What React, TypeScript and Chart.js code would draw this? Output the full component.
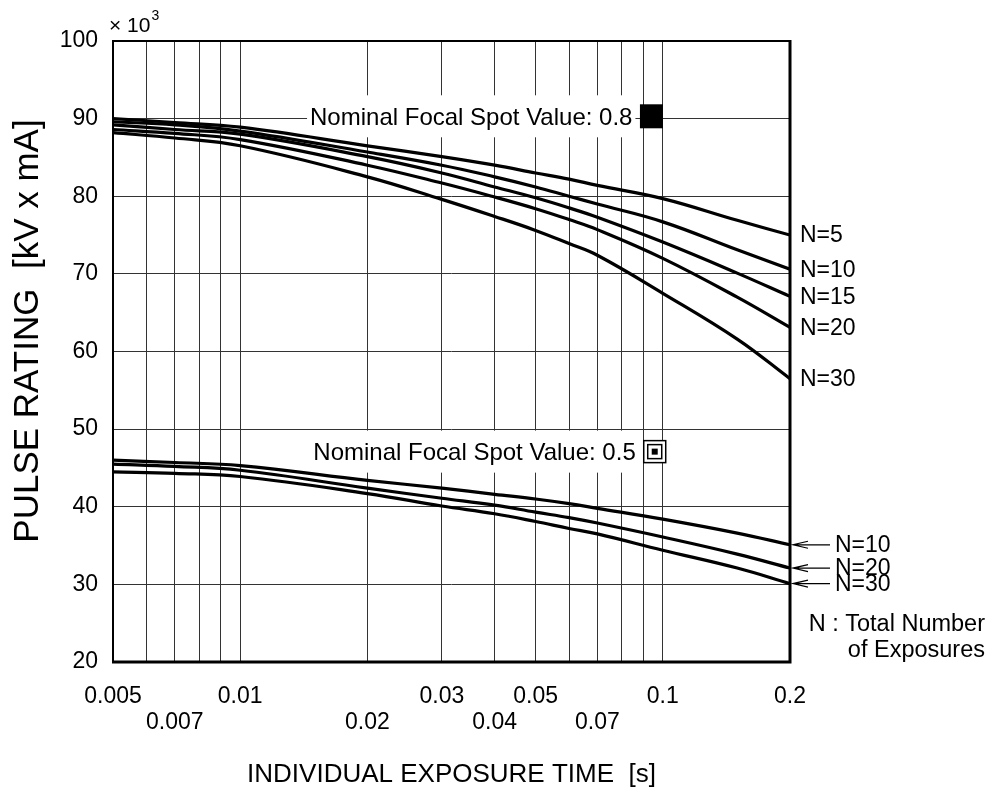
import React, { useEffect, useRef } from "react";
import { Chart, registerables } from "chart.js";

Chart.register(...registerables);

// ---- data ----
const TIMES_HI = [0.005, 0.007, 0.01, 0.02, 0.03, 0.04, 0.05, 0.06, 0.07, 0.1, 0.15, 0.2];
const HI_N5 = [90.0, 89.5, 88.9, 86.5, 85.1, 84.0, 83.0, 82.2, 81.4, 79.7, 76.9, 75.0];
const HI_N10 = [89.6, 89.2, 88.4, 85.7, 84.0, 82.5, 81.2, 80.0, 79.0, 76.7, 73.1, 70.6];
const HI_N15 = [89.2, 88.6, 88.0, 85.1, 83.0, 81.2, 79.8, 78.5, 77.3, 74.1, 70.1, 67.1];
const HI_N20 = [88.6, 88.1, 87.3, 84.0, 81.7, 79.9, 78.4, 77.0, 75.7, 72.0, 67.0, 63.1];
const HI_N30 = [88.2, 87.5, 86.5, 82.5, 79.6, 77.4, 75.6, 73.9, 72.4, 67.5, 61.6, 56.5];

const TIMES_LO = [0.005, 0.007, 0.01, 0.02, 0.03, 0.04, 0.05, 0.06, 0.07, 0.1, 0.15, 0.2];
const LO_N10 = [46.0, 45.7, 45.3, 43.4, 42.4, 41.6, 41.0, 40.4, 39.8, 38.4, 36.6, 35.1];
const LO_N20 = [45.5, 45.2, 44.7, 42.4, 41.1, 40.2, 39.3, 38.6, 37.9, 36.1, 33.9, 32.1];
const LO_N30 = [44.5, 44.3, 43.9, 41.7, 40.1, 39.1, 38.1, 37.2, 36.5, 34.4, 32.1, 30.1];

const HI_LABELS = ["N=5", "N=10", "N=15", "N=20", "N=30"];
const LO_LABELS = ["N=10", "N=20", "N=30"];

const X_GRID = [0.005, 0.006, 0.007, 0.008, 0.009, 0.01, 0.02, 0.03, 0.04, 0.05, 0.06, 0.07, 0.08, 0.09, 0.1, 0.2];
const X_ROW1 = [0.005, 0.01, 0.03, 0.05, 0.1, 0.2];
const X_ROW2 = [0.007, 0.02, 0.04, 0.07];
const X_MIN = 0.005;
const X_MAX = 0.2;
const Y_MIN = 20;
const Y_MAX = 100;
const Y_STEP = 10;

const X_TITLE = "INDIVIDUAL EXPOSURE TIME  [s]";
const Y_TITLE = "PULSE RATING  [kV x mA]";
const SPOT_08 = { text: "Nominal Focal Spot Value: 0.8", x: 0.094, y: 90.3 };
const SPOT_05 = { text: "Nominal Focal Spot Value: 0.5", x: 0.0957, y: 47.1 };
const NOTE = ["N : Total Number", "of Exposures"];

const FONT = "'Liberation Sans', Arial, sans-serif";

const fmt = (v: number) => String(parseFloat(v.toPrecision(3)));
const near = (a: number, b: number) => Math.abs(a - b) / b < 1e-6;

const overlay = {
  id: "overlay",
  beforeDatasetsDraw(chart: any) {
    const { ctx, scales } = chart;
    const x = scales.x, y = scales.y;
    ctx.save();
    ctx.font = `24px ${FONT}`;
    ctx.textBaseline = "middle";
    ctx.textAlign = "right";
    for (const s of [SPOT_08, SPOT_05]) {
      const cx = x.getPixelForValue(s.x);
      const cy = y.getPixelForValue(s.y);
      const tr = cx - 19;
      const w = ctx.measureText(s.text).width;
      ctx.fillStyle = "#fff";
      ctx.fillRect(tr - w - 3, cy - 21, w + 6, 42);
      ctx.fillStyle = "#000";
      ctx.fillText(s.text, tr, cy + 2);
    }
    ctx.restore();
  },
  afterDatasetsDraw(chart: any) {
    const { ctx, chartArea: a, scales } = chart;
    const x = scales.x, y = scales.y;
    ctx.save();
    // frame
    ctx.strokeStyle = "#000";
    ctx.lineWidth = 2;
    ctx.beginPath();
    ctx.moveTo(a.left, a.bottom);
    ctx.lineTo(a.left, a.top);
    ctx.lineTo(a.right, a.top);
    ctx.stroke();
    ctx.lineWidth = 3;
    ctx.beginPath();
    ctx.moveTo(a.left - 1, a.bottom);
    ctx.lineTo(a.right, a.bottom);
    ctx.lineTo(a.right, a.top - 1);
    ctx.stroke();

    // spot symbols
    {
      const cx = x.getPixelForValue(SPOT_08.x);
      const cy = y.getPixelForValue(SPOT_08.y);
      ctx.fillStyle = "#000";
      ctx.fillRect(cx - 11.5, cy - 12, 23, 24);
    }
    {
      const cx = x.getPixelForValue(SPOT_05.x);
      const cy = y.getPixelForValue(SPOT_05.y);
      ctx.fillStyle = "#fff";
      ctx.fillRect(cx - 11, cy - 11, 22, 22);
      ctx.strokeStyle = "#000";
      ctx.lineWidth = 1.5;
      ctx.strokeRect(cx - 11, cy - 11, 22, 22);
      ctx.strokeRect(cx - 7, cy - 7, 14, 14);
      ctx.fillStyle = "#000";
      ctx.fillRect(cx - 3, cy - 3, 6, 6);
    }

    // right labels
    ctx.font = `23px ${FONT}`;
    ctx.fillStyle = "#000";
    ctx.textAlign = "left";
    ctx.textBaseline = "middle";
    const hiEnds = [HI_N5, HI_N10, HI_N15, HI_N20, HI_N30].map((d) => d[d.length - 1]);
    hiEnds.forEach((v, i) => {
      ctx.fillText(HI_LABELS[i], a.right + 10, y.getPixelForValue(v) + 1);
    });
    const loEnds = [LO_N10, LO_N20, LO_N30].map((d) => d[d.length - 1]);
    loEnds.forEach((v, i) => {
      const py = y.getPixelForValue(v);
      ctx.strokeStyle = "#000";
      ctx.lineWidth = 1.2;
      ctx.beginPath();
      ctx.moveTo(a.right + 40, py);
      ctx.lineTo(a.right + 3, py);
      ctx.moveTo(a.right + 18, py - 3.5);
      ctx.lineTo(a.right + 3, py);
      ctx.lineTo(a.right + 18, py + 3.5);
      ctx.stroke();
      ctx.fillText(LO_LABELS[i], a.right + 45, py + 1);
    });

    // note
    ctx.textAlign = "right";
    ctx.font = `23.5px ${FONT}`;
    ctx.fillText(NOTE[0], 985, a.bottom - 37);
    ctx.fillText(NOTE[1], 985, a.bottom - 11);

    // exponent
    ctx.textAlign = "left";
    ctx.textBaseline = "alphabetic";
    ctx.font = `21px ${FONT}`;
    ctx.fillText("× 10", a.left - 4, a.top - 9);
    const w = ctx.measureText("× 10").width;
    ctx.font = `14px ${FONT}`;
    ctx.fillText("3", a.left - 4 + w + 1, a.top - 21);

    // axis titles
    ctx.font = `26px ${FONT}`;
    ctx.textAlign = "center";
    ctx.fillText(X_TITLE, (a.left + a.right) / 2, 782);
    ctx.save();
    ctx.font = `35px ${FONT}`;
    ctx.translate(38, 331);
    ctx.rotate(-Math.PI / 2);
    ctx.fillText(Y_TITLE, 0, 0);
    ctx.restore();
    ctx.restore();
  },
};

const mk = (xs: number[], ys: number[]) => xs.map((t, i) => ({ x: t, y: ys[i] }));

export default function App() {
  const ref = useRef<HTMLCanvasElement | null>(null);
  useEffect(() => {
    if (!ref.current) return;
    const series = [
      mk(TIMES_HI, HI_N5), mk(TIMES_HI, HI_N10), mk(TIMES_HI, HI_N15), mk(TIMES_HI, HI_N20), mk(TIMES_HI, HI_N30),
      mk(TIMES_LO, LO_N10), mk(TIMES_LO, LO_N20), mk(TIMES_LO, LO_N30),
    ];
    const chart = new Chart(ref.current, {
      type: "line",
      data: {
        datasets: series.map((d) => ({
          data: d,
          borderColor: "#000",
          borderWidth: 3.2,
          pointRadius: 0,
          fill: false,
          tension: 0.4,
        })),
      },
      options: {
        responsive: false,
        animation: false,
        devicePixelRatio: 1,
        layout: { padding: { left: 0, top: 41, right: 200, bottom: 0 } },
        plugins: { legend: { display: false }, tooltip: { enabled: false } },
        scales: {
          x: {
            type: "logarithmic",
            min: X_MIN,
            max: X_MAX,
            afterBuildTicks: (s: any) => {
              s.ticks = X_GRID.map((v) => ({ value: v }));
            },
            afterFit: (s: any) => {
              s.height = 129;
            },
            border: { display: false },
            grid: { color: "#333", lineWidth: 1, drawTicks: false },
            ticks: {
              autoSkip: false,
              maxRotation: 0,
              minRotation: 0,
              padding: 22,
              color: "#000",
              font: { family: FONT, size: 23, lineHeight: "26px" },
              callback: (v: any) => {
                const n = Number(v);
                if (X_ROW1.some((r) => near(n, r))) return [fmt(n), ""];
                if (X_ROW2.some((r) => near(n, r))) return ["", fmt(n)];
                return "";
              },
            },
          },
          y: {
            type: "linear",
            min: Y_MIN,
            max: Y_MAX,
            afterFit: (s: any) => {
              s.width = 113;
            },
            border: { display: false },
            grid: { color: "#333", lineWidth: 1, drawTicks: false },
            ticks: {
              stepSize: Y_STEP,
              padding: 15,
              color: "#000",
              font: { family: FONT, size: 23 },
            },
          },
        },
      },
      plugins: [overlay],
    });
    return () => chart.destroy();
  }, []);
  return (
    <canvas
      ref={ref}
      width={990}
      height={791}
      style={{ position: "absolute", left: 0, top: 0, width: 990, height: 791 }}
    />
  );
}
